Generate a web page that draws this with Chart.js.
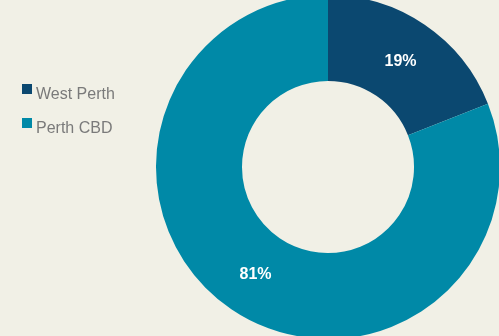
<!DOCTYPE html>
<html>
<head>
<meta charset="utf-8">
<script src="https://cdn.jsdelivr.net/npm/chart.js@4"></script>
<style>
html,body{margin:0;padding:0;background:#f1f0e6;overflow:hidden;width:499px;height:336px;}
#wrap{position:absolute;left:0;top:-5px;width:500px;height:344px;}
</style>
</head>
<body>
<div id="wrap"><canvas id="c"></canvas></div>
<script>
const categories = ["West Perth", "Perth CBD"];
const values = [19, 81];
const colors = ["#0b4870", "#0089a7"];

const sliceLabels = {
  id: 'sliceLabels',
  afterDatasetsDraw(chart) {
    const ctx = chart.ctx;
    const meta = chart.getDatasetMeta(0);
    const total = values.reduce((a, b) => a + b, 0);
    ctx.save();
    ctx.fillStyle = '#ffffff';
    ctx.font = '600 16px "Liberation Sans", Arial, sans-serif';
    ctx.textAlign = 'center';
    ctx.textBaseline = 'middle';
    meta.data.forEach((arc, i) => {
      const p = arc.tooltipPosition();
      ctx.fillText(Math.round(values[i] / total * 100) + '%', p.x, p.y + 1);
    });
    ctx.restore();
  }
};

const customLegend = {
  id: 'customLegend',
  afterDraw(chart) {
    const ctx = chart.ctx;
    ctx.save();
    ctx.font = '16px "Liberation Sans", Arial, sans-serif';
    ctx.textBaseline = 'alphabetic';
    categories.forEach((name, i) => {
      const y = 94 + i * 34;
      ctx.fillStyle = colors[i];
      ctx.fillRect(22, y - 5, 10, 10);
      ctx.fillStyle = '#7a7a7a';
      ctx.fillText(name, 36, y + 10);
    });
    ctx.restore();
  }
};

new Chart(document.getElementById('c'), {
  type: 'doughnut',
  data: {
    labels: categories,
    datasets: [{
      data: values,
      backgroundColor: colors,
      borderWidth: 0,
      hoverOffset: 0
    }]
  },
  options: {
    responsive: true,
    maintainAspectRatio: false,
    animation: false,
    cutout: '50%',
    layout: { padding: { left: 156, right: 0, top: 0, bottom: 0 } },
    plugins: {
      legend: { display: false },
      tooltip: { enabled: false }
    }
  },
  plugins: [sliceLabels, customLegend]
});
</script>
</body>
</html>
